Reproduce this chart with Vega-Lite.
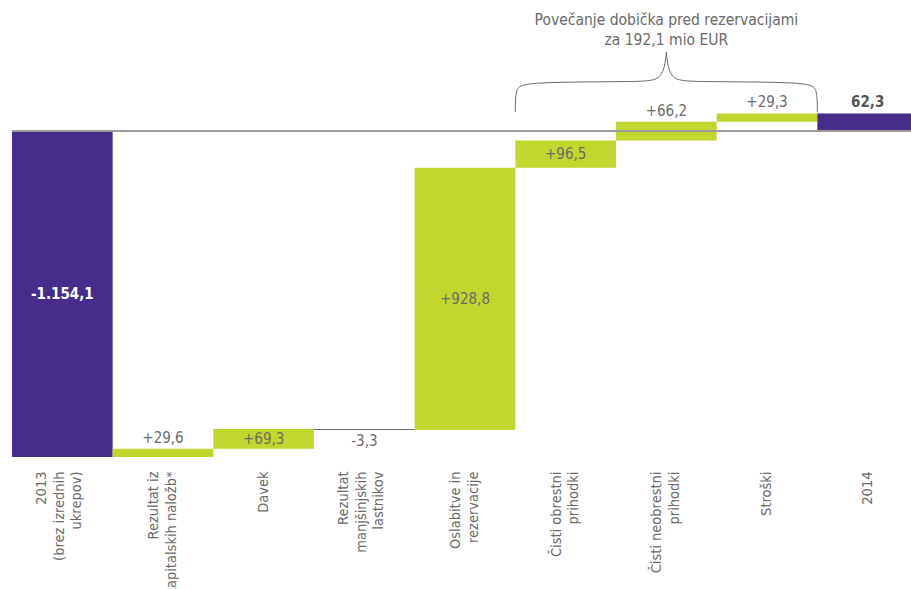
{
  "$schema": "https://vega.github.io/schema/vega-lite/v6.json",
  "width": 906,
  "height": 457,
  "autosize": {"type": "none"},
  "padding": {"left": 12, "top": 0, "right": 0, "bottom": 132},
  "background": "white",
  "config": {
    "view": {"stroke": null},
    "font": "Liberation Sans Narrow, DejaVu Sans Condensed, sans-serif",
    "text": {"font": "Liberation Sans Narrow, DejaVu Sans Condensed, sans-serif"}
  },
  "datasets": {
    "steps": [
      {"name": "2013|(brez izrednih|ukrepov)", "start": 0, "end": -1154.1, "kind": "total", "label": "-1.154,1"},
      {"name": "Rezultat iz|kapitalskih naložb*", "start": -1154.1, "end": -1124.5, "kind": "up", "label": "+29,6"},
      {"name": "Davek", "start": -1124.5, "end": -1055.2, "kind": "up", "label": "+69,3"},
      {"name": "Rezultat|manjšinjskih|lastnikov", "start": -1055.2, "end": -1058.5, "kind": "down", "label": "-3,3"},
      {"name": "Oslabitve in|rezervacije", "start": -1058.5, "end": -129.7, "kind": "up", "label": "+928,8"},
      {"name": "Čisti obrestni|prihodki", "start": -129.7, "end": -33.2, "kind": "up", "label": "+96,5"},
      {"name": "Čisti neobrestni|prihodki", "start": -33.2, "end": 33.0, "kind": "up", "label": "+66,2"},
      {"name": "Stroški", "start": 33.0, "end": 62.3, "kind": "up", "label": "+29,3"},
      {"name": "2014", "start": 0, "end": 62.3, "kind": "total", "label": "62,3"}
    ],
    "brace": [
      {"part": "L", "o": 0, "bx": 5.0, "by": 67},
      {"part": "L", "o": 1, "bx": 5.0, "by": 150},
      {"part": "L", "o": 2, "bx": 5.08, "by": 174},
      {"part": "L", "o": 3, "bx": 6.25, "by": 174},
      {"part": "L", "o": 4, "bx": 6.47, "by": 180},
      {"part": "L", "o": 5, "bx": 6.5, "by": 280},
      {"part": "R", "o": 0, "bx": 6.5, "by": 280},
      {"part": "R", "o": 1, "bx": 6.53, "by": 180},
      {"part": "R", "o": 2, "bx": 6.75, "by": 174},
      {"part": "R", "o": 3, "bx": 7.92, "by": 174},
      {"part": "R", "o": 4, "bx": 8.0, "by": 150},
      {"part": "R", "o": 5, "bx": 8.0, "by": 67}
    ]
  },
  "layer": [
    {
      "data": {"name": "steps"},
      "transform": [
        {"calculate": "(datum.start + datum.end) / 2", "as": "mid"},
        {"calculate": "max(datum.start, datum.end)", "as": "top"},
        {"calculate": "min(datum.start, datum.end)", "as": "bottom"}
      ],
      "encoding": {
        "x": {
          "field": "name",
          "type": "nominal",
          "sort": null,
          "scale": {"paddingInner": 0, "paddingOuter": 0},
          "axis": {
            "title": null,
            "domain": false,
            "ticks": false,
            "labelAngle": -90,
            "labelAlign": "right",
            "labelBaseline": "middle",
            "labelPadding": 14,
            "labelFontSize": 14.5,
            "labelColor": "#6a6a6a",
            "labelLineHeight": 17.5,
            "labelLimit": 400,
            "labelOverlap": false,
            "labelOffset": {
              "condition": [
                {"test": "length(split(datum.value, '|')) == 3", "value": -20},
                {"test": "length(split(datum.value, '|')) == 2", "value": -9}
              ],
              "value": 0
            },
            "labelExpr": "split(datum.label, '|')"
          }
        }
      },
      "layer": [
        {
          "mark": {"type": "bar"},
          "encoding": {
            "y": {"field": "start", "type": "quantitative", "scale": {"domain": [-1154.1, 463.8], "nice": false, "zero": false}, "axis": null},
            "y2": {"field": "end"},
            "color": {
              "field": "kind",
              "type": "nominal",
              "scale": {"domain": ["total", "up", "down"], "range": ["#472C8C", "#C1D72E", "#6d6d6d"]},
              "legend": null
            }
          }
        },
        {
          "mark": {"type": "rule", "color": "#9a9a9a", "strokeWidth": 1},
          "encoding": {"y": {"datum": 0, "type": "quantitative"}, "x": null}
        },
        {
          "transform": [{"filter": {"field": "kind", "equal": "total"}}, {"filter": "datum.end < 0"}],
          "mark": {"type": "text", "color": "white", "fontWeight": "bold", "fontSize": 15, "baseline": "middle"},
          "encoding": {"y": {"field": "mid", "type": "quantitative"}, "text": {"field": "label"}}
        },
        {
          "transform": [{"filter": {"field": "name", "oneOf": ["Davek", "Oslabitve in|rezervacije", "Čisti obrestni|prihodki"]}}],
          "mark": {"type": "text", "color": "#6a6a6a", "fontSize": 15, "baseline": "middle"},
          "encoding": {"y": {"field": "mid", "type": "quantitative"}, "text": {"field": "label"}}
        },
        {
          "transform": [{"filter": {"field": "name", "oneOf": ["Rezultat iz|kapitalskih naložb*", "Čisti neobrestni|prihodki", "Stroški"]}}],
          "mark": {"type": "text", "color": "#6a6a6a", "fontSize": 15, "baseline": "bottom", "dy": -3},
          "encoding": {"y": {"field": "top", "type": "quantitative"}, "text": {"field": "label"}}
        },
        {
          "transform": [{"filter": {"field": "name", "equal": "2014"}}],
          "mark": {"type": "text", "color": "#555555", "fontWeight": "bold", "fontSize": 15, "baseline": "bottom", "dy": -3},
          "encoding": {"y": {"field": "top", "type": "quantitative"}, "text": {"field": "label"}}
        },
        {
          "transform": [{"filter": {"field": "kind", "equal": "down"}}],
          "mark": {"type": "text", "color": "#6a6a6a", "fontSize": 15, "baseline": "top", "dy": 4},
          "encoding": {"y": {"field": "bottom", "type": "quantitative"}, "text": {"field": "label"}}
        }
      ]
    },
    {
      "layer": [
        {
          "data": {"name": "brace"},
          "mark": {"type": "line", "interpolate": "basis", "color": "#6a6a6a", "strokeWidth": 1},
          "encoding": {
            "x": {"field": "bx", "type": "quantitative", "scale": {"domain": [0, 9], "nice": false, "zero": false}, "axis": null},
            "y": {"field": "by", "type": "quantitative"},
            "detail": {"field": "part"},
            "order": {"field": "o"}
          }
        },
        {
          "data": {"values": [{"bx": 6.5, "by": 393, "t": "Povečanje dobička pred rezervacijami|za 192,1 mio EUR"}]},
          "mark": {"type": "text", "color": "#6a6a6a", "fontSize": 15.5, "baseline": "middle", "align": "center", "lineBreak": "|", "lineHeight": 20},
          "encoding": {
            "x": {"field": "bx", "type": "quantitative"},
            "y": {"field": "by", "type": "quantitative"},
            "text": {"field": "t"}
          }
        }
      ]
    }
  ],
  "resolve": {"scale": {"x": "independent"}}
}
